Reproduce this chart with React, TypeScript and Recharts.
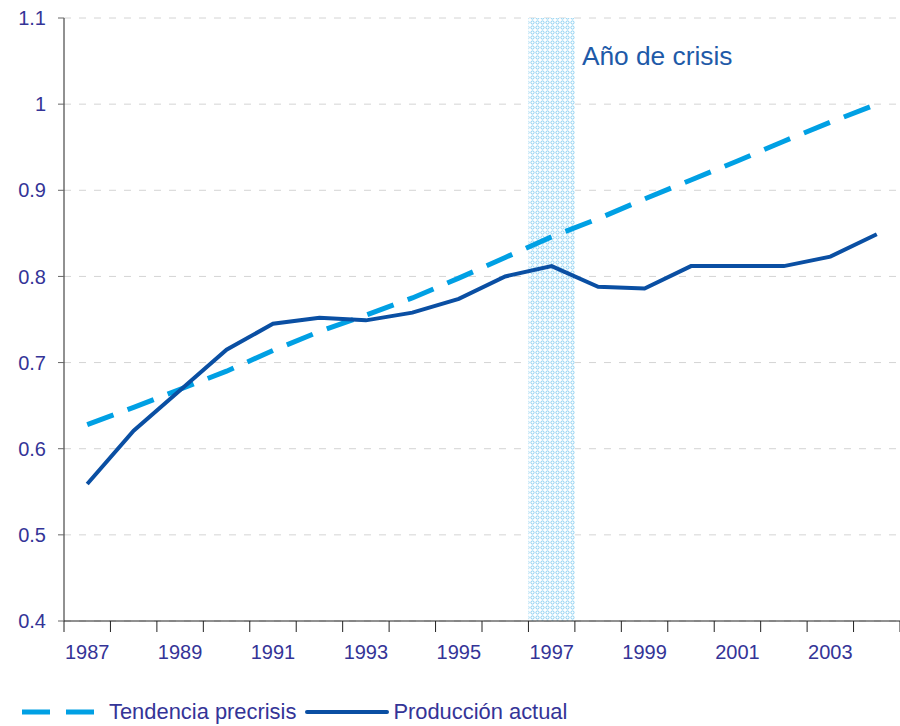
import {
  LineChart,
  Line,
  XAxis,
  YAxis,
  CartesianGrid,
  ReferenceArea,
  Legend,
} from 'recharts';

// years, one point per year
const years = [
  1987, 1988, 1989, 1990, 1991, 1992, 1993, 1994, 1995,
  1996, 1997, 1998, 1999, 2000, 2001, 2002, 2003, 2004,
];

// Tendencia precrisis
const tendencia = [
  0.628, 0.648, 0.669, 0.69, 0.714, 0.736, 0.755, 0.775, 0.798,
  0.822, 0.846, 0.867, 0.89, 0.912, 0.934, 0.957, 0.979, 1.0,
];

// Producción actual
const produccion = [
  0.559, 0.621, 0.668, 0.715, 0.745, 0.752, 0.749, 0.758, 0.774,
  0.8, 0.812, 0.788, 0.786, 0.812, 0.812, 0.812, 0.823, 0.849,
];

const yTicks = [0.4, 0.5, 0.6, 0.7, 0.8, 0.9, 1, 1.1];
const labelYears = [1987, 1989, 1991, 1993, 1995, 1997, 1999, 2001, 2003];
const crisisYear = 1997;

const data = years.map((year, i) => ({
  year,
  tendencia: tendencia[i],
  produccion: produccion[i],
}));

// tick marks sit between years, labels on every other year
const xTicks: number[] = [years[0] - 0.5];
years.forEach((y) => {
  xTicks.push(y);
  xTicks.push(y + 0.5);
});

const FONT = '"Liberation Sans", Arial, sans-serif';
const TEXT = '#343497';
const TREND = '#00A0E4';
const ACTUAL = '#0A4FA3';

function XTick(props: any) {
  const { x, y, payload } = props;
  const v = payload.value;
  if (v % 1 !== 0) {
    return <line x1={x} y1={y} x2={x} y2={y + 11} stroke="#222" strokeWidth={1} />;
  }
  if (!labelYears.includes(v)) return null;
  return (
    <text x={x} y={y + 38} textAnchor="middle" fill={TEXT} fontSize={20} fontFamily={FONT}>
      {v}
    </text>
  );
}

function CrisisLabel(props: any) {
  const { viewBox } = props;
  return (
    <text
      x={viewBox.x + viewBox.width + 7}
      y={viewBox.y + 47}
      fill="#1E5AA8"
      fontSize={26.3}
      fontFamily={FONT}
    >
      Año de crisis
    </text>
  );
}

function LegendBox() {
  const item = { display: 'flex', alignItems: 'center' } as const;
  return (
    <div
      style={{
        height: 65,
        display: 'flex',
        alignItems: 'flex-end',
        paddingLeft: 22,
        boxSizing: 'border-box',
        paddingBottom: 1,
        fontFamily: FONT,
        fontSize: 21.9,
        color: TEXT,
      }}
    >
      <div style={item}>
        <svg width={74} height={10}>
          <line x1={0} y1={5} x2={74} y2={5} stroke={TREND} strokeWidth={5} strokeDasharray="28 16" />
        </svg>
        <span style={{ marginLeft: 13 }}>Tendencia precrisis</span>
      </div>
      <div style={{ ...item, marginLeft: 9 }}>
        <svg width={84} height={10}>
          <line x1={2} y1={5} x2={82} y2={5} stroke={ACTUAL} strokeWidth={4} strokeLinecap="round" />
        </svg>
        <span style={{ marginLeft: 4 }}>Producción actual</span>
      </div>
    </div>
  );
}

export default function App() {
  return (
    <div style={{ position: 'absolute', left: 0, top: 0, background: '#fff' }}>
      <LineChart
        width={900}
        height={726}
        data={data}
        margin={{ top: 18, right: 0, left: 0, bottom: 0 }}
      >
        <defs>
          <pattern id="crisisDots" width={5} height={5} patternUnits="userSpaceOnUse">
            <rect width={5} height={5} fill="#ffffff" />
            <circle cx={2.5} cy={2.5} r={1.6} fill="none" stroke="#7CC8EE" strokeWidth={0.9} />
          </pattern>
        </defs>
        <CartesianGrid stroke="#d4d4d4" strokeDasharray="7 8" vertical={false} />
        <ReferenceArea
          x1={crisisYear - 0.5}
          x2={crisisYear + 0.5}
          y1={0.4}
          y2={1.1}
          fill="url(#crisisDots)"
          fillOpacity={1}
          stroke="none"
          label={<CrisisLabel />}
          ifOverflow="visible"
        />
        <XAxis
          dataKey="year"
          type="number"
          domain={[years[0] - 0.5, years[years.length - 1] + 0.5]}
          ticks={xTicks}
          interval={0}
          tick={<XTick />}
          tickLine={false}
          tickSize={0}
          tickMargin={0}
          height={40}
          axisLine={{ stroke: '#222' }}
        />
        <YAxis
          domain={[0.4, 1.1]}
          ticks={yTicks}
          interval={0}
          width={64}
          tickSize={6}
          tickMargin={12}
          tickLine={{ stroke: '#666' }}
          axisLine={{ stroke: '#222' }}
          tick={{ fill: TEXT, fontSize: 20, fontFamily: FONT }}
        />
        <Legend verticalAlign="bottom" content={<LegendBox />} wrapperStyle={{ height: 65 }} />
        <Line
          dataKey="tendencia"
          stroke={TREND}
          strokeWidth={5}
          strokeDasharray="28 15"
          dot={false}
          isAnimationActive={false}
          name="Tendencia precrisis"
        />
        <Line
          dataKey="produccion"
          stroke={ACTUAL}
          strokeWidth={4}
          dot={false}
          isAnimationActive={false}
          name="Producción actual"
        />
      </LineChart>
    </div>
  );
}
